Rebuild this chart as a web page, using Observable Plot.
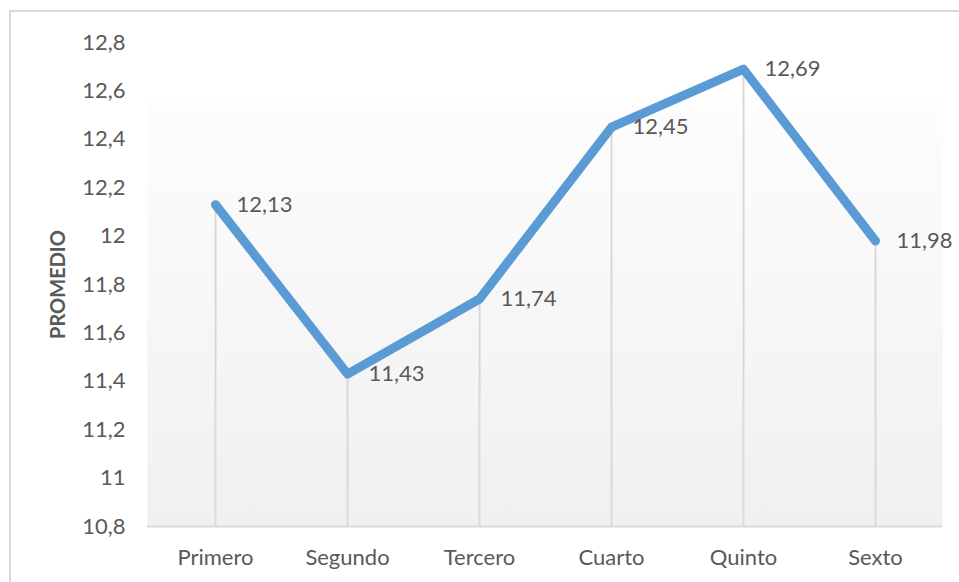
<!DOCTYPE html>
<html>
<head>
<meta charset="utf-8">
<script src="https://cdn.jsdelivr.net/npm/d3@7"></script>
<script src="https://cdn.jsdelivr.net/npm/@observablehq/plot@0.6"></script>
<style>
  html, body { margin: 0; padding: 0; background: #fff; overflow: hidden; }
  #wrap { position: relative; width: 959px; height: 582px; overflow: hidden; }
  #border { position: absolute; left: 9px; top: 10px; width: 980px; height: 600px; border: 2px solid #d9d9d9; box-sizing: border-box; pointer-events: none; }
  svg { display: block; }
</style>
</head>
<body>
<div id="wrap"><div id="border"></div></div>
<script>
const categories = ["Primero", "Segundo", "Tercero", "Cuarto", "Quinto", "Sexto"];
const values = [12.13, 11.43, 11.74, 12.45, 12.69, 11.98];
const yTicks = [10.8, 11, 11.2, 11.4, 11.6, 11.8, 12, 12.2, 12.4, 12.6, 12.8];
const yLabel = "PROMEDIO";

const data = categories.map((c, i) => ({cat: c, value: values[i]}));
const comma = v => String(+v.toFixed(2)).replace(".", ",");
const font = "Lato, 'Open Sans', sans-serif";

const chart = Plot.plot({
  width: 959,
  height: 582,
  marginLeft: 147,
  marginRight: 17,
  marginTop: 42,
  marginBottom: 56,
  style: {fontFamily: font, fontSize: "22px", color: "#595959", background: "transparent"},
  x: {type: "band", domain: categories, padding: 0, label: null},
  y: {domain: [10.8, 12.8], label: null},
  marks: [
    Plot.frame({fill: "url(#bggrad)", stroke: "none"}),
    Plot.ruleX(data, {x: "cat", y1: 10.8, y2: "value", stroke: "#d9d9d9", strokeWidth: 2}),
    Plot.ruleY([10.8], {stroke: "#d9d9d9", strokeWidth: 2}),
    Plot.axisY({ticks: yTicks, tickSize: 0, tickPadding: 22, tickFormat: d => String(d).replace(".", ","), fontSize: 22, fill: "#595959", label: null}),
    Plot.axisX({tickSize: 0, tickPadding: 23, fontSize: 22, fill: "#595959", label: null}),
    Plot.text([yLabel], {frameAnchor: "left", textAnchor: "middle", dx: -89, rotate: -90, fontWeight: "bold", fontSize: 20, fill: "#595959", text: d => d}),
    Plot.line(data, {x: "cat", y: "value", stroke: "#5b9bd5", strokeWidth: 9, strokeLinecap: "round", strokeLinejoin: "round"}),
    Plot.text(data, {x: "cat", y: "value", text: d => comma(d.value), textAnchor: "start", dx: 21, dy: 0, fontSize: 22, fill: "#595959"})
  ]
});

const ns = "http://www.w3.org/2000/svg";
const defs = document.createElementNS(ns, "defs");
defs.innerHTML = `<linearGradient id="bggrad" x1="0" y1="0" x2="0" y2="1">
  <stop offset="0" stop-color="#ffffff"/>
  <stop offset="0.113" stop-color="#ffffff"/>
  <stop offset="0.114" stop-color="#fdfdfd"/>
  <stop offset="1" stop-color="#f0f0f0"/>
</linearGradient>`;
chart.insertBefore(defs, chart.firstChild);
document.getElementById("wrap").insertBefore(chart, document.getElementById("border"));
</script>
</body>
</html>
